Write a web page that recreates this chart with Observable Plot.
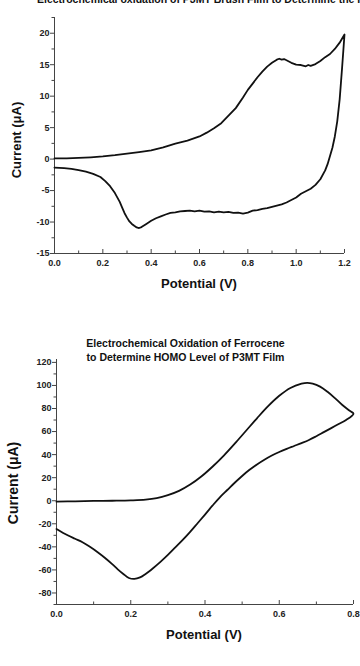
<!DOCTYPE html>
<html>
<head>
<meta charset="utf-8">
<script src="https://cdn.jsdelivr.net/npm/d3@7"></script>
<script src="https://cdn.jsdelivr.net/npm/@observablehq/plot@0.6"></script>
<style>
  html, body { margin: 0; padding: 0; background: #fff; }
  body { width: 360px; height: 666px; overflow: hidden; position: relative; font-family: "Liberation Sans", Arial, sans-serif; font-weight: bold; color: #111; }
  .abs { position: absolute; white-space: nowrap; }
  .ylab { position: absolute; white-space: nowrap; transform: translate(-50%, -50%) rotate(-90deg); font-size: 13px; }
  .xlab { position: absolute; white-space: nowrap; transform: translate(-50%, -50%); font-size: 13px; }
</style>
</head>
<body>
<div id="top" class="abs" style="left:0;top:0"></div>
<div id="bottom" class="abs" style="left:0;top:330px"></div>
<div class="abs" style="left:37px;top:-7px;font-size:10.5px;line-height:12px;">Electrochemical oxidation of P3MT Brush Film to Determine the HOMO Level</div>
<div class="abs" style="left:0;top:336px;width:371px;text-align:center;font-size:10.5px;line-height:14px;white-space:normal;">Electrochemical Oxidation of Ferrocene<br>to Determine HOMO Level of P3MT Film</div>
<div class="ylab" style="left:16px;top:140px;">Current (μA)</div>
<div class="ylab" style="left:12.5px;top:483px;font-size:14px;">Current (μA)</div>
<div class="xlab" style="left:199px;top:283px;">Potential (V)</div>
<div class="xlab" style="left:204px;top:634px;">Potential (V)</div>
<script>
// ---- Chart 1: P3MT brush film CV (one continuous scan: forward then reverse)
const p3mtPotential = [
  0.00,0.05,0.10,0.15,0.20,0.25,0.30,0.35,0.40,0.45,0.50,0.55,0.60,0.63,0.66,0.69,0.72,0.75,0.78,0.80,
  0.82,0.84,0.86,0.88,0.90,0.92,0.93,0.94,0.95,0.96,0.98,1.00,1.02,1.04,1.05,1.06,1.08,1.10,1.12,1.14,
  1.16,1.18,1.20,
  1.19,1.18,1.17,1.16,1.15,1.14,1.13,1.12,1.10,1.08,1.06,1.04,1.02,1.00,0.98,0.96,0.94,0.92,0.90,0.88,
  0.86,0.84,0.82,0.80,0.78,0.76,0.74,0.72,0.70,0.68,0.66,0.64,0.62,0.60,0.58,0.56,0.54,0.52,0.50,0.48,
  0.46,0.44,0.42,0.40,0.38,0.36,0.35,0.34,0.33,0.32,0.31,0.30,0.29,0.28,0.27,0.25,0.23,0.21,0.19,0.16,
  0.13,0.10,0.07,0.04,0.00
];
const p3mtCurrent = [
  0.10,0.12,0.18,0.28,0.42,0.62,0.88,1.12,1.40,1.85,2.45,2.95,3.60,4.20,4.90,5.70,6.90,8.10,9.80,11.00,
  12.00,13.00,13.90,14.70,15.30,15.80,15.95,15.80,15.90,15.70,15.30,15.00,14.95,14.75,14.95,14.80,15.10,15.60,16.20,16.70,
  17.50,18.50,19.80,
  14.5,9.5,6.0,3.6,1.8,0.5,-0.8,-1.8,-3.2,-4.1,-4.7,-5.1,-5.5,-6.1,-6.5,-6.9,-7.2,-7.4,-7.6,-7.8,
  -7.9,-8.1,-8.2,-8.5,-8.65,-8.5,-8.55,-8.4,-8.45,-8.35,-8.45,-8.3,-8.35,-8.2,-8.3,-8.2,-8.25,-8.3,-8.45,-8.55,
  -8.8,-9.1,-9.4,-9.8,-10.3,-10.8,-10.95,-10.85,-10.6,-10.3,-9.9,-9.3,-8.6,-7.7,-6.8,-5.4,-4.3,-3.5,-2.85,-2.35,
  -2.0,-1.75,-1.55,-1.45,-1.35
];
const topXTicks = [0, 0.2, 0.4, 0.6, 0.8, 1.0, 1.2];
const topXMinor = [0.1, 0.3, 0.5, 0.7, 0.9, 1.1];
const topYTicks = [-15, -10, -5, 0, 5, 10, 15, 20];
const topYMinor = [-12.5, -7.5, -2.5, 2.5, 7.5, 12.5, 17.5, 22.5];
const topXDomain = [0, 1.2];
const topYDomain = [-15, 22.5];

// ---- Chart 2: Ferrocene CV (forward then reverse)
const ferroPotential = [
  0.00,0.05,0.10,0.15,0.20,0.24,0.27,0.30,0.33,0.36,0.39,0.42,0.45,0.48,0.51,0.54,0.57,0.60,0.63,0.66,
  0.675,0.69,0.71,0.73,0.75,0.77,0.79,0.80,
  0.78,0.76,0.74,0.72,0.70,0.68,0.66,0.64,0.62,0.60,0.58,0.56,0.54,0.52,0.50,0.48,0.46,0.44,0.42,0.40,
  0.38,0.36,0.34,0.32,0.30,0.28,0.26,0.24,0.225,0.21,0.195,0.18,0.165,0.15,0.13,0.11,0.09,0.07,0.05,0.03,0.00
];
const ferroCurrent = [
  -0.8,-0.5,-0.2,0.0,0.3,0.9,2.2,4.8,8.5,14.0,21.0,29.5,39.0,49.5,60.5,71.5,82.0,91.0,97.8,101.5,
  102.3,101.6,99.0,94.5,89.0,83.0,78.0,75.5,
  70.0,66.5,63.0,59.5,56.0,52.7,50.0,47.5,45.0,42.3,39.2,35.6,31.5,26.8,21.5,15.6,9.3,3.0,-4.3,-12.0,
  -19.5,-27.0,-34.0,-40.5,-47.0,-53.0,-58.5,-63.5,-66.5,-67.8,-67.0,-63.5,-59.5,-55.0,-49.5,-44.5,-40.0,-36.0,-33.0,-30.0,-24.5
];
const botXTicks = [0, 0.2, 0.4, 0.6, 0.8];
const botXMinor = [0.1, 0.3, 0.5, 0.7];
const botYTicks = [-80, -60, -40, -20, 0, 20, 40, 60, 80, 100, 120];
const botYMinor = [-90, -70, -50, -30, -10, 10, 30, 50, 70, 90, 110];
const botXDomain = [0, 0.8];
const botYDomain = [-90, 122.5];

const axisColor = "#444";
const style = {fontFamily: '"Liberation Sans", Arial, sans-serif', fontWeight: "bold", fontSize: "9px", color: "#222", background: "transparent", overflow: "visible"};

function cvChart({px, py, xTicks, xMinor, yTicks, yMinor, xDomain, yDomain, width, height, margins, curve}) {
  const data = px.map((x, i) => ({x, y: py[i]}));
  const yLo = yDomain[0];
  const span = yDomain[1] - yDomain[0];
  const plotH = height - margins.top - margins.bottom;
  const unitsPerPx = span / plotH;
  return Plot.plot({
    width, height,
    marginTop: margins.top, marginBottom: margins.bottom, marginLeft: margins.left, marginRight: margins.right,
    x: {domain: xDomain},
    y: {domain: yDomain},
    style,
    marks: [
      Plot.axisY(yTicks, {tickSize: 4, tickPadding: 1, tickFormat: d => String(d), label: null, stroke: axisColor, fill: "#222"}),
      Plot.axisY(yMinor, {tickSize: 2.5, tickFormat: () => "", label: null, stroke: axisColor}),
      Plot.axisX(xTicks, {tickSize: 0, tickPadding: 6, tickFormat: d3.format(".1f"), label: null, fill: "#222"}),
      Plot.ruleX(xTicks, {y1: yLo, y2: yLo + 4 * unitsPerPx, stroke: axisColor}),
      Plot.ruleX(xMinor, {y1: yLo, y2: yLo + 2.5 * unitsPerPx, stroke: axisColor}),
      Plot.ruleX([xDomain[0]], {stroke: axisColor}),
      Plot.ruleY([yLo], {stroke: axisColor}),
      Plot.line(data, {x: "x", y: "y", stroke: "#111", strokeWidth: 1.8, curve})
    ]
  });
}

document.getElementById("top").appendChild(cvChart({
  px: p3mtPotential, py: p3mtCurrent,
  xTicks: topXTicks, xMinor: topXMinor, yTicks: topYTicks, yMinor: topYMinor,
  xDomain: topXDomain, yDomain: topYDomain,
  width: 360, height: 300,
  margins: {top: 17, bottom: 47, left: 54, right: 16},
  curve: "linear"
}));

document.getElementById("bottom").appendChild(cvChart({
  px: ferroPotential, py: ferroCurrent,
  xTicks: botXTicks, xMinor: botXMinor, yTicks: botYTicks, yMinor: botYMinor,
  xDomain: botXDomain, yDomain: botYDomain,
  width: 360, height: 336,
  margins: {top: 29, bottom: 62, left: 56, right: 7},
  curve: "catmull-rom"
}));
</script>
</body>
</html>
